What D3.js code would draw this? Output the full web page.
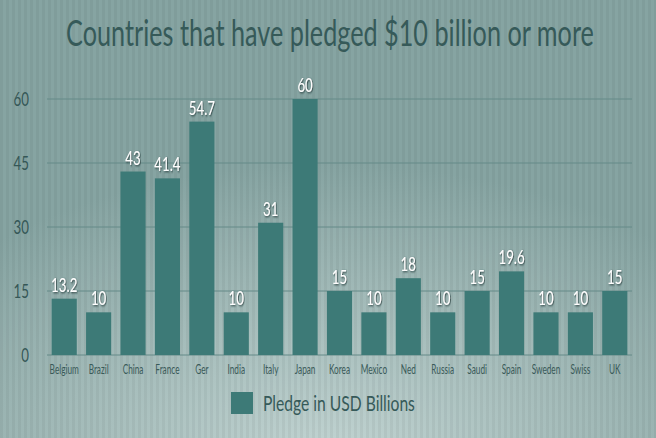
<!DOCTYPE html>
<html><head><meta charset="utf-8">
<script src="https://cdn.jsdelivr.net/npm/d3@7"></script>
<style>
html,body{margin:0;padding:0;overflow:hidden;}
svg{display:block;}
</style></head>
<body>
<script>
const countries = ["Belgium","Brazil","China","France","Ger","India","Italy","Japan","Korea","Mexico","Ned","Russia","Saudi","Spain","Sweden","Swiss","UK"];
const pledges = [13.2,10,43,41.4,54.7,10,31,60,15,10,18,10,15,19.6,10,10,15];
const yTicks = [0,15,30,45,60];
const titleText = "Countries that have pledged $10 billion or more";
const legendLabel = "Pledge in USD Billions";

const W = 656, H = 438;
const font = "Lato,'Open Sans',sans-serif";
const svg = d3.select("body").append("svg").attr("width", W).attr("height", H);
const defs = svg.append("defs");

const rg = defs.append("radialGradient").attr("id","bg").attr("cx","0.5").attr("cy","1.05").attr("r","0.75")
  .attr("gradientTransform","translate(0.5,1.05) scale(1,0.9) translate(-0.5,-1.05)");
rg.append("stop").attr("offset","0").attr("stop-color","#c2d4d2");
rg.append("stop").attr("offset","0.55").attr("stop-color","#a2bab8");
rg.append("stop").attr("offset","1").attr("stop-color","#86a4a2");

const pat = defs.append("pattern").attr("id","stripes").attr("patternUnits","userSpaceOnUse").attr("width",6).attr("height",10);
pat.append("rect").attr("x",0).attr("y",0).attr("width",3).attr("height",10).attr("fill","#000").attr("opacity",0.045);

const sh = defs.append("filter").attr("id","shadow").attr("x","-30%").attr("y","-30%").attr("width","160%").attr("height","160%");
sh.append("feDropShadow").attr("dx",1).attr("dy",1).attr("stdDeviation",0.8).attr("flood-color","#1d3635").attr("flood-opacity",0.9);

svg.append("rect").attr("width",W).attr("height",H).attr("fill","url(#bg)");
svg.append("rect").attr("width",W).attr("height",H).attr("fill","url(#stripes)");

const x = d3.scaleBand().domain(countries).range([47,632]).paddingInner(0.27).paddingOuter(0.135);
const y = d3.scaleLinear().domain([0,60]).range([355,99]);

// draw text condensed horizontally by a scale transform around its anchor point
function placeText(sel, fx, fy, f) {
  sel.attr("x",0).attr("y",0)
    .attr("transform",(d,i)=>`translate(${fx(d,i)},${fy(d,i)}) scale(${f},1)`);
}

// grid
svg.append("g").selectAll("line").data(yTicks).join("line")
  .attr("x1",47).attr("x2",632).attr("y1",d=>y(d)).attr("y2",d=>y(d))
  .attr("stroke","#658a88").attr("stroke-width",1);

// y labels
svg.append("g").selectAll("text").data(yTicks).join("text")
  .attr("text-anchor","end")
  .attr("font-family",font).attr("font-size",19).attr("fill","#355756").text(d=>d)
  .call(placeText, ()=>29, d=>y(d)+7, 0.7);

// bars
svg.append("g").selectAll("rect").data(countries).join("rect")
  .attr("x",d=>x(d)).attr("width",x.bandwidth())
  .attr("y",(d,i)=>y(pledges[i])).attr("height",(d,i)=>y(0)-y(pledges[i]))
  .attr("fill","#3d7a77");

// value labels
svg.append("g").selectAll("text").data(countries).join("text")
  .attr("text-anchor","middle").attr("font-family",font).attr("font-size",19)
  .attr("fill","#ffffff").attr("filter","url(#shadow)").text((d,i)=>pledges[i])
  .call(placeText, d=>x(d)+x.bandwidth()/2, (d,i)=>y(pledges[i])-7, 0.7);

// x labels
svg.append("g").selectAll("text").data(countries).join("text")
  .attr("text-anchor","middle").attr("font-family",font).attr("font-size",12.5)
  .attr("fill","#3a5a59").text(d=>d)
  .call(placeText, d=>x(d)+x.bandwidth()/2, ()=>374, 0.66);

// title
const title = svg.append("text").attr("text-anchor","middle")
  .attr("font-family",font).attr("font-size",36).attr("fill","#365a59").text(titleText);
const tw = title.node().getComputedTextLength();
title.attr("transform",`translate(330,46) scale(${528/tw},1)`);

// legend
svg.append("rect").attr("x",231).attr("y",392).attr("width",22).attr("height",22).attr("fill","#3d7a77");
const leg = svg.append("text").attr("font-family",font).attr("font-size",22)
  .attr("fill","#365a59").text(legendLabel);
const lw = leg.node().getComputedTextLength();
leg.attr("transform",`translate(263,411) scale(${152/lw},1)`);
</script>
</body></html>
